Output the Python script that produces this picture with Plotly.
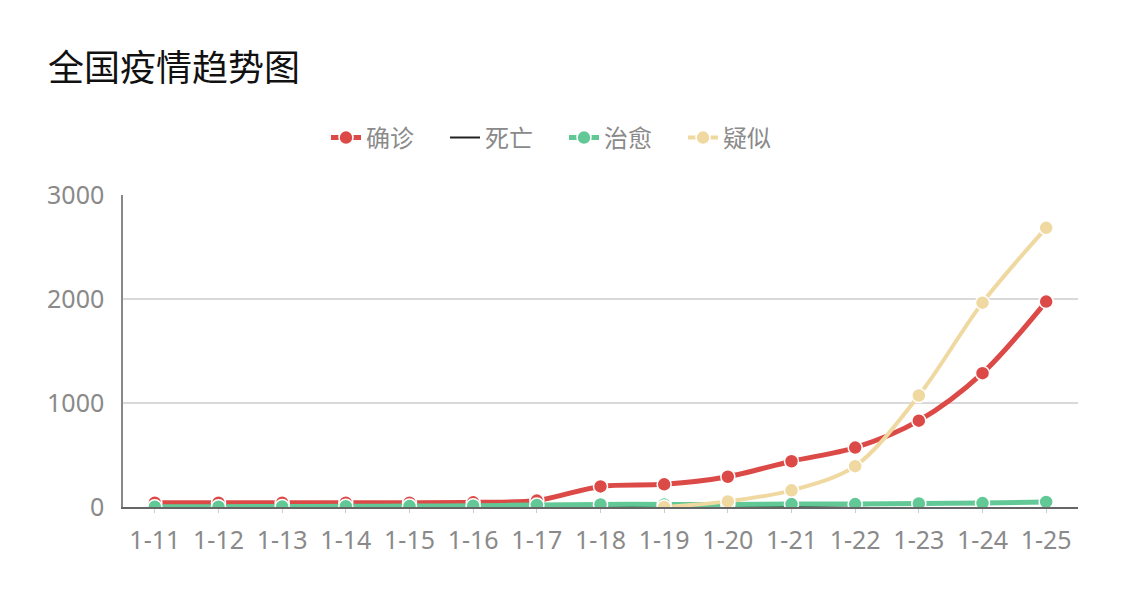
import plotly.graph_objects as go

# dates on the x axis
days = ['1-11', '1-12', '1-13', '1-14', '1-15', '1-16', '1-17', '1-18',
        '1-19', '1-20', '1-21', '1-22', '1-23', '1-24', '1-25']

# series
confirmed = [41, 41, 41, 41, 41, 45, 62, 198, 218, 291, 440, 571, 830, 1287, 1975]
dead = [1, 1, 1, 1, 2, 2, 3, 4, 4, 6, 9, 17, 25, 41, 56]
cured = [2, 3, 5, 7, 9, 12, 19, 25, 25, 25, 28, 28, 34, 38, 49]
suspected = [None, None, None, None, None, None, None, None, 0, 54, 160, 393, 1072, 1965, 2684]

yTicks = [0, 1000, 2000, 3000]

series = [
    ('确诊', confirmed, '#dc4a48', 5, 14),
    ('死亡', dead, '#222222', 2, 0),
    ('治愈', cured, '#62c996', 5, 14),
    ('疑似', suspected, '#f0d8a1', 4, 14),
]

fontFam = 'Noto Sans, Noto Sans CJK SC, sans-serif'
# the page body adds 8px around the figure
off = 8

fig = go.Figure()
for name, vals, col, w, msize in series:
    fig.add_trace(go.Scatter(
        x=days, y=vals, name=name,
        mode='lines+markers' if msize else 'lines',
        line=dict(color=col, width=w, shape='spline', smoothing=0.9),
        marker=dict(size=msize, color=col, line=dict(color='white', width=1.5)),
        connectgaps=False,
    ))

fig.update_layout(
    width=1128, height=600,
    paper_bgcolor='white', plot_bgcolor='white',
    margin=dict(l=123 - off, r=50 + off, t=195 - off, b=93 + off),
    font=dict(family=fontFam, color='#8a8a8a'),
    title=dict(text='全国疫情趋势图', x=(48 - off) / 1128, xref='container', xanchor='left',
               y=1 - (68 - off) / 600, yref='container', yanchor='middle',
               font=dict(size=36, color='#111111', family=fontFam)),
    legend=dict(orientation='h', x=(564 - off) / 1128, xref='container', xanchor='center',
                y=1 - (138 - off) / 600, yref='container', yanchor='middle',
                font=dict(size=24, color='#8a8a8a'), itemwidth=30,
                entrywidth=74, entrywidthmode='pixels'),
    showlegend=True,
)

fig.update_xaxes(
    type='category', range=[-0.5, 14.5],
    showline=True, linecolor='#666666', linewidth=1.5,
    showgrid=False, ticks='outside', ticklen=4, tickcolor='#cccccc',
    ticklabelstandoff=6,
    tickfont=dict(size=25, color='#8a8a8a'), fixedrange=True,
)
fig.update_yaxes(
    range=[0, 3000], tickvals=yTicks,
    showline=True, linecolor='#888888', linewidth=1.5,
    showgrid=True, gridcolor='#d9d9d9', gridwidth=1.5,
    zeroline=False, ticks='', ticklabelstandoff=12,
    tickfont=dict(size=25, color='#8a8a8a'), fixedrange=True,
)

fig.write_html('out.html')
